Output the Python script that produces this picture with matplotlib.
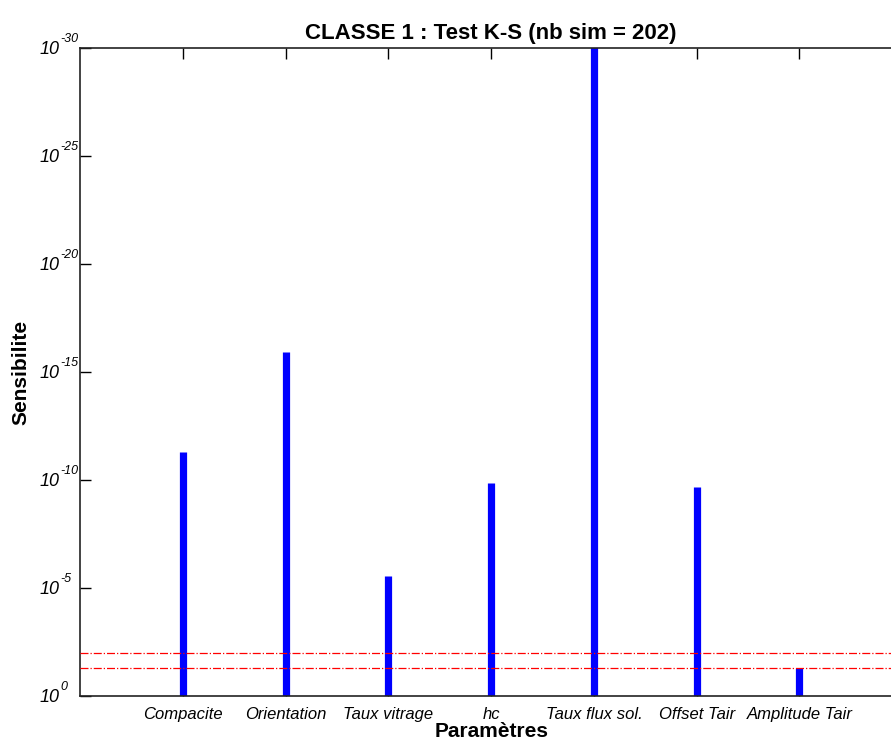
import numpy as np
import matplotlib
matplotlib.use('Agg')
from matplotlib import pyplot as plt
from matplotlib.ticker import FixedLocator, NullFormatter, NullLocator

# Data (p-values of the K-S test)
params = ['Compacite', 'Orientation', 'Taux vitrage', 'hc',
          'Taux flux sol.', 'Offset Tair', 'Amplitude Tair']
pvals = [10**-11.3, 10**-15.95, 10**-5.56, 10**-9.87, 1e-35, 10**-9.69, 0.048]
seuils = [0.01, 0.05]
exposants = [0, -5, -10, -15, -20, -25, -30]
title = 'CLASSE 1 : Test K-S (nb sim = 202)'

plt.rc('font', family='Liberation Sans')

fig = plt.figure(figsize=(8.91, 7.40), dpi=100)
ax = fig.add_axes([0.0901, 0.059, 0.9224, 0.8757])

x = np.arange(1, len(params) + 1)
ax.vlines(x, 1.0, pvals, colors='#0000ff', linewidth=5.2, zorder=2)
for s in seuils:
    ax.axhline(s, color='red', linestyle='-.', linewidth=0.9, zorder=3)

ax.set_yscale('log')
ax.set_ylim(1.0, 1e-30)
ax.set_xlim(0, 8)
ax.yaxis.set_major_locator(FixedLocator([10.0**k for k in exposants]))
ax.yaxis.set_minor_locator(NullLocator())
ax.yaxis.set_major_formatter(NullFormatter())

# y tick labels drawn by hand: italic "10" with a hyphen exponent (Matlab style)
ytr = ax.get_yaxis_transform()
for k in exposants:
    ax.annotate('10', xy=(0, 10.0**k), xycoords=ytr, xytext=(-21, -1),
                textcoords='offset pixels', ha='right', va='center',
                fontsize=13, style='italic')
    ax.annotate('%d' % k, xy=(0, 10.0**k), xycoords=ytr, xytext=(-20, 3),
                textcoords='offset pixels', ha='left', va='bottom',
                fontsize=9, style='italic')

ax.set_xticks(x)
ax.set_xticklabels(params, style='italic', fontsize=12)
ax.tick_params(axis='y', direction='in', length=8, width=1, right=True)
ax.tick_params(axis='x', direction='in', length=8, width=1, top=True, pad=8)

for sp in ax.spines.values():
    sp.set_linewidth(1.2)
    sp.set_color('#222222')

ax.set_title(title, fontsize=16, fontweight='bold', pad=7)
ax.set_ylabel('Sensibilite', fontsize=15, fontweight='bold', labelpad=0)
ax.yaxis.set_label_coords(-0.0605, 0.5)
ax.set_xlabel('Paramètres', fontsize=15, fontweight='bold', labelpad=0)

fig.savefig('out.png', dpi=100)
